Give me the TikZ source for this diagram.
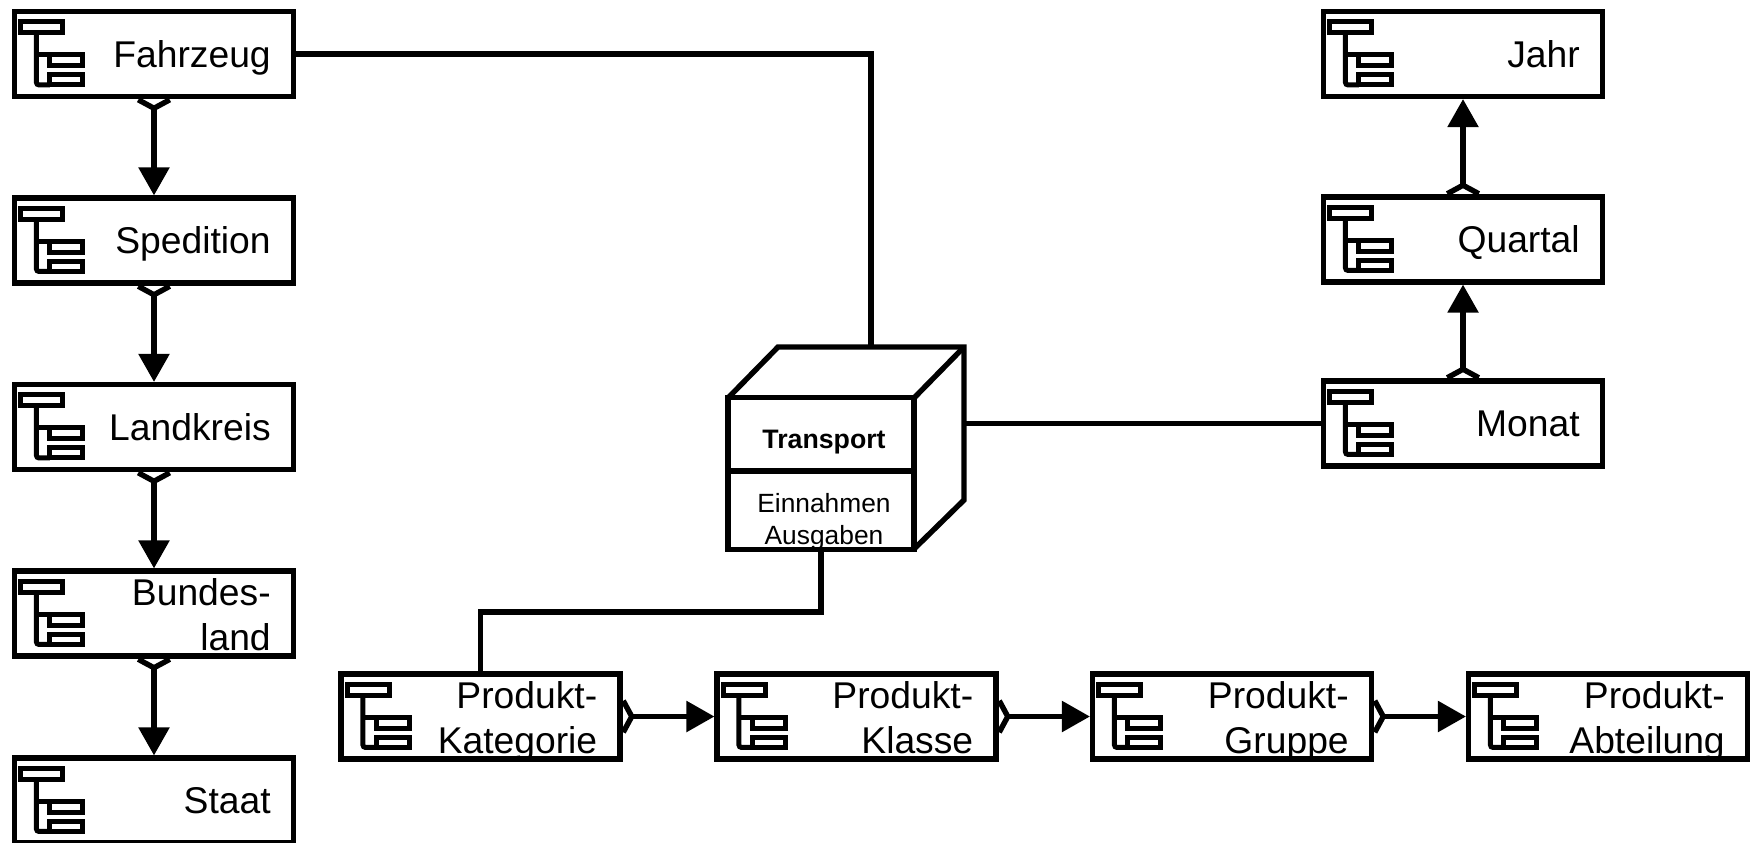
\documentclass[tikz,border=0pt]{standalone}
\usepackage{fontspec}
\setmainfont{Liberation Sans}
\usepackage{tikz}
\usetikzlibrary{arrows.meta}
\tikzset{
	entitybox/.style={draw, line width=1.08mm, fill=white, minimum width=5.575cm, minimum height=1.695cm, inner sep=0pt},
	entitytext/.style={anchor=base east, align=right, inner sep=0pt, font=\fontsize{21.2}{25.6}\selectfont},
	twoline/.style={yshift=-0.48cm},
	factline/.style={line width=1.08mm},
	rollup/.style={line width=1.08mm, shorten <=-0.4mm, {Straight Barb[reversed,length=1.7mm,width=6.3mm,line width=1.08mm]}-{Triangle[length=5.6mm,width=6mm]}},
	treeicon/.pic={
		\draw[line width=1mm] (9,13) rectangle (51,24);
		\draw[line width=1mm, rounded corners=0.5mm] (24.5,24) -- (24.5,76) -- (38,76);
		\draw[line width=1mm] (24.5,46) -- (38,46);
		\draw[line width=1mm] (38,46) rectangle (71,57);
		\draw[line width=1mm] (38,66) rectangle (71,76);
	}
}
\def\entity[#1](#2)(#3)#4{
	\node[entitybox] (#2) at (#3) {};
	\pic at (#2.north west) {treeicon};
	\node[entitytext, #1] (#2text) at ([xshift=-0.5cm, yshift=-0.26cm]#2.east) {#4};
}

\begin{document}
\begin{tikzpicture}[x=0.02cm, y=-0.02cm]
	\useasboundingbox (0,0) rectangle (1753,842);

	%%%%% DIMENSIONS %%%%%
	\entity[](fahrzeug)(154,54){Fahrzeug}
	\entity[](spedition)(154,240.5){Spedition}
	\entity[](landkreis)(154,427){Landkreis}
	\entity[twoline](bundesland)(154,613.5){Bundes-\\land}
	\entity[](staat)(154,800.5){Staat}

	\entity[](jahr)(1463,54){Jahr}
	\entity[](quartal)(1463,239.5){Quartal}
	\entity[](monat)(1463,423.5){Monat}

	\entity[twoline](kategorie)(480.5,716.5){Produkt-\\Kategorie}
	\entity[twoline](klasse)(856.5,716.5){Produkt-\\Klasse}
	\entity[twoline](gruppe)(1232,716.5){Produkt-\\Gruppe}
	\entity[twoline](abteilung)(1608,716.5){Produkt-\\Abteilung}

	%%%%% CUBE %%%%%
	\draw[line width=1.08mm, line join=miter] (728,398) -- (778,347) -- (964,347) -- (964,500) -- (914,549);
	\draw[line width=1.08mm] (914,398) -- (964,347);
	\node[draw, line width=1.08mm, minimum width=3.72cm, minimum height=3.03cm, inner sep=0pt] (transport) at (821,473.5) {};
	\draw[line width=1.08mm] (transport.west |- 0,471) -- (transport.east |- 0,471);
	\node[inner sep=0pt, anchor=base, font=\fontsize{15.2}{18}\bfseries\selectfont] (transporttitle) at (824,448) {Transport};
	\node[inner sep=0pt, anchor=base, font=\fontsize{15}{18}\selectfont] (einnahmen) at (824,512.7) {Einnahmen};
	\node[inner sep=0pt, anchor=base, font=\fontsize{15}{18}\selectfont] (ausgaben) at (824,544) {Ausgaben};
	\coordinate (cubetop) at (871,347);
	\coordinate (cuberight) at (964,423.5);

	%%%%% CONNECTORS %%%%%
	\draw[factline] (fahrzeug.east) -| (cubetop);
	\draw[factline] (cuberight) -- (monat.west);
	\draw[factline] (transport.south) -- ++(0,60) -| (kategorie.north);

	\draw[rollup] (fahrzeug) -- (spedition);
	\draw[rollup] (spedition) -- (landkreis);
	\draw[rollup] (landkreis) -- (bundesland);
	\draw[rollup] (bundesland) -- (staat);

	\draw[rollup] (monat) -- (quartal);
	\draw[rollup] (quartal) -- (jahr);

	\draw[rollup] (kategorie) -- (klasse);
	\draw[rollup] (klasse) -- (gruppe);
	\draw[rollup] (gruppe) -- (abteilung);
\end{tikzpicture}
\end{document}
